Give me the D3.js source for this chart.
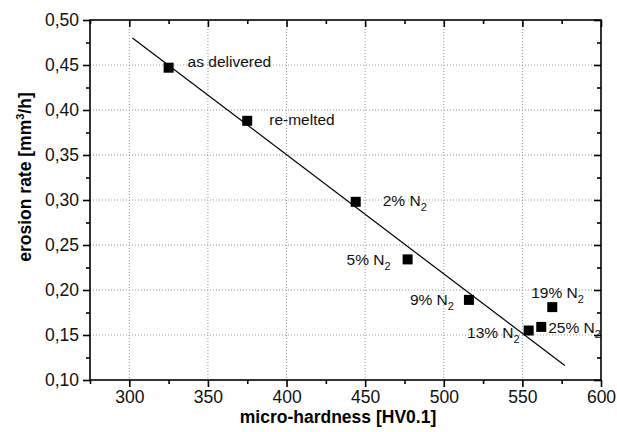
<!DOCTYPE html>
<html>
<head>
<meta charset="utf-8">
<script src="https://cdn.jsdelivr.net/npm/d3@7"></script>
<style>
  body { margin: 0; background: #fff; }
  svg { font-family: "Liberation Sans", Arial, sans-serif; }
</style>
</head>
<body>
<svg id="chart" width="617" height="432"></svg>
<script>
// measured points (hardness HV0.1, erosion rate mm3/h)
const names = ["as delivered", "re-melted", "2% N", "5% N", "9% N", "13% N", "25% N", "19% N"];
const hardness = [325, 375, 444, 477, 516, 554, 562, 569];
const erosion = [0.447, 0.388, 0.298, 0.234, 0.189, 0.155, 0.159, 0.181];
const hasSub = [false, false, true, true, true, true, true, true];

// linear fit line endpoints
const fitX = [302, 577];
const fitY = [0.480, 0.116];

const xTicks = [300, 350, 400, 450, 500, 550, 600];
const yTicks = [0.10, 0.15, 0.20, 0.25, 0.30, 0.35, 0.40, 0.45, 0.50];

var svg = d3.select("#chart"),
	margin = { top: 20, right: 16, bottom: 52, left: 90 },
	width = +svg.attr("width") - margin.left - margin.right,
	height = +svg.attr("height") - margin.top - margin.bottom;

var x = d3.scaleLinear().domain([275, 600]).range([0, width]),
	y = d3.scaleLinear().domain([0.10, 0.50]).range([height, 0]);

var g = svg.append("g")
	.attr("transform", "translate(" + margin.left + "," + margin.top + ")");

var fmt = d => d3.format(".2f")(d).replace(".", ",");

// dotted grid
g.selectAll(".gx").data(xTicks.filter(d => d < 600)).enter().append("line")
	.attr("x1", d => x(d)).attr("x2", d => x(d))
	.attr("y1", 0).attr("y2", height)
	.attr("stroke", "#999").attr("stroke-width", 1).attr("stroke-dasharray", "1,2");
g.selectAll(".gy").data(yTicks.filter(d => d > 0.1 && d < 0.5)).enter().append("line")
	.attr("x1", 0).attr("x2", width)
	.attr("y1", d => y(d)).attr("y2", d => y(d))
	.attr("stroke", "#999").attr("stroke-width", 1).attr("stroke-dasharray", "1,2");

// axes
var minorX = d3.range(275, 601, 25).filter(d => d % 50 !== 0);
var minorY = d3.range(0.125, 0.5, 0.05);

function styleAxis(sel) {
	sel.select(".domain").remove();
	sel.selectAll("line").attr("stroke", "#000").attr("stroke-width", 1.6);
	sel.selectAll("text").attr("font-size", "17.5px").attr("fill", "#111");
}

g.append("g").attr("transform", "translate(0," + height + ")")
	.call(d3.axisBottom(x).tickValues(xTicks).tickSize(7).tickPadding(4))
	.call(styleAxis);
g.append("g").attr("transform", "translate(0," + height + ")")
	.call(d3.axisBottom(x).tickValues(minorX).tickSize(4).tickFormat(""))
	.call(styleAxis);
g.append("g")
	.call(d3.axisLeft(y).tickValues(yTicks).tickSize(7).tickPadding(4).tickFormat(fmt))
	.call(styleAxis);
g.append("g")
	.call(d3.axisLeft(y).tickValues(minorY).tickSize(4).tickFormat(""))
	.call(styleAxis);
g.append("g")
	.call(d3.axisBottom(x).tickValues(xTicks).tickSize(7).tickFormat(""))
	.call(styleAxis);
g.append("g")
	.call(d3.axisBottom(x).tickValues(minorX).tickSize(4).tickFormat(""))
	.call(styleAxis);
g.append("g").attr("transform", "translate(" + width + ",0)")
	.call(d3.axisLeft(y).tickValues(yTicks).tickSize(7).tickFormat(""))
	.call(styleAxis);
g.append("g").attr("transform", "translate(" + width + ",0)")
	.call(d3.axisLeft(y).tickValues(minorY).tickSize(4).tickFormat(""))
	.call(styleAxis);

// frame
g.append("rect").attr("width", width).attr("height", height)
	.attr("fill", "none").attr("stroke", "#000").attr("stroke-width", 1.6);

// fit line
g.append("line")
	.attr("x1", x(fitX[0])).attr("y1", y(fitY[0]))
	.attr("x2", x(fitX[1])).attr("y2", y(fitY[1]))
	.attr("stroke", "#000").attr("stroke-width", 1.2);

// points
var pts = names.map((n, i) => ({ name: n, hv: hardness[i], er: erosion[i], sub: hasSub[i] }));
g.selectAll(".pt").data(pts).enter().append("rect")
	.attr("x", d => x(d.hv) - 5).attr("y", d => y(d.er) - 5)
	.attr("width", 10).attr("height", 10).attr("fill", "#000");

// labels: offsets from point, anchor
var lab = [
	{ dx: 19, dy: -1, a: "start" },
	{ dx: 22, dy: 4, a: "start" },
	{ dx: 27, dy: 4, a: "start" },
	{ dx: -17, dy: 6, a: "end" },
	{ dx: -15, dy: 5, a: "end" },
	{ dx: -9, dy: 7, a: "end" },
	{ dx: 7, dy: 6, a: "start" },
	{ dx: -21, dy: -9, a: "start" }
];
pts.forEach((d, i) => {
	var t = g.append("text")
		.attr("x", x(d.hv) + lab[i].dx).attr("y", y(d.er) + lab[i].dy)
		.attr("text-anchor", lab[i].a)
		.attr("font-size", "15.5px").attr("fill", "#111");
	t.append("tspan").text(d.name);
	if (d.sub) t.append("tspan").attr("font-size", "11px").attr("dy", 5).text("2");
});

// axis titles
svg.append("text")
	.attr("x", 338).attr("y", 423)
	.attr("text-anchor", "middle").attr("font-weight", "bold").attr("font-size", "17.5px")
	.text("micro-hardness [HV0.1]");
var yt = svg.append("text")
	.attr("transform", "translate(31,177) rotate(-90)")
	.attr("text-anchor", "middle").attr("font-weight", "bold").attr("font-size", "17.5px");
yt.append("tspan").text("erosion rate [mm");
yt.append("tspan").attr("font-size", "11px").attr("dy", -7).text("3");
yt.append("tspan").attr("dy", 7).text("/h]");
</script>
</body>
</html>
